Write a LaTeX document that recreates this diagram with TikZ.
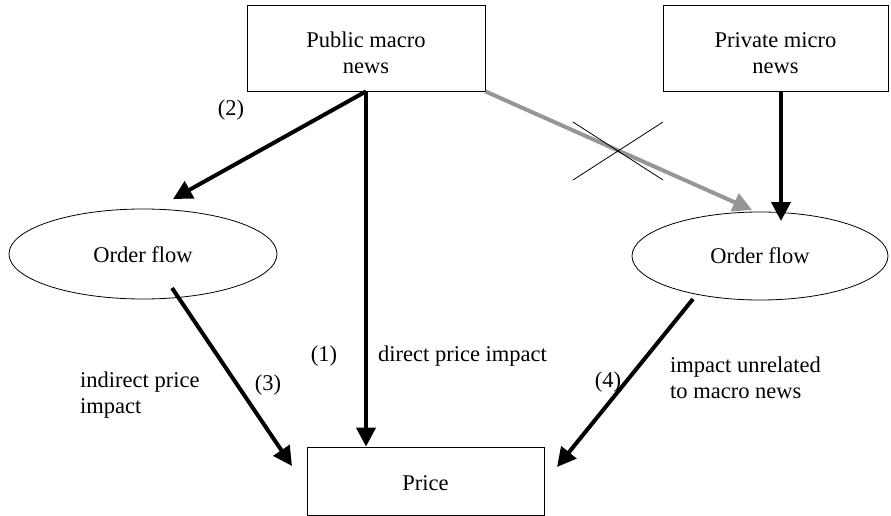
\documentclass[tikz,border=0pt]{standalone}
\usepackage{fontspec}
\setmainfont{Liberation Serif}
\usetikzlibrary{arrows.meta,shapes.geometric}
\definecolor{arrowgray}{RGB}{150,150,150}
\newcommand{\boxtext}[2]{\raisebox{#1}[\height][\depth]{\begin{tabular}{@{}c@{}}#2\end{tabular}}}
\tikzset{
  box/.style={draw, line width=0.8pt, rectangle, inner sep=0pt, align=center},
  oval/.style={draw, line width=0.8pt, ellipse, inner sep=0pt, minimum width=268pt, minimum height=90pt},
  flow/.style={line width=4pt, -{Triangle[length=19pt,width=19pt]}},
  grayflow/.style={flow, draw=arrowgray, -{Triangle[length=19pt,width=19pt,fill=arrowgray]}},
  lbl/.style={inner sep=0pt, align=left},
  every node/.style={font=\fontsize{22.5pt}{26pt}\selectfont}
}
\begin{document}
\begin{tikzpicture}[x=1pt,y=-1pt]
\useasboundingbox (0,0) rectangle (891,516);
\node[box, minimum width=238pt, minimum height=86pt] (pub) at (366,48) {\boxtext{-7pt}{Public macro\\news}};
\node[box, minimum width=225pt, minimum height=86pt] (priv) at (775.5,48) {\boxtext{-7pt}{Private micro\\news}};
\node[oval] (lof) at (143,254) {\boxtext{-3pt}{Order flow}};
\node[oval, minimum width=256pt, minimum height=88pt] (rof) at (760,256) {\boxtext{-2pt}{Order flow}};
\node[box, minimum width=237pt, minimum height=68pt] (price) at (425.5,481) {\boxtext{-4pt}{Price}};

\coordinate (t2) at (173,199);
\coordinate (tg) at (752,210);
\coordinate (sp) at (781,91);
\coordinate (tp) at (781,221);
\coordinate (s3) at (172,288);
\coordinate (t3) at (292,466);
\coordinate (s4) at (693,299);
\coordinate (t4) at (557,467);

\draw[flow] (pub.south) -- (t2);
\draw[flow] (pub.south) -- (pub.south |- price.north);
\draw[grayflow] (pub.south east) -- (tg);
\draw[flow] (sp) -- (tp);
\draw[flow] (s3) -- (t3);
\draw[flow] (s4) -- (t4);

\coordinate (c1) at (573,122);
\coordinate (c2) at (663,180);
\coordinate (c3) at (573,180);
\coordinate (c4) at (663,122);
\draw[line width=0.8pt] (c1) -- (c2);
\draw[line width=0.8pt] (c3) -- (c4);

\node[lbl] (l2) at (231,110) {(2)};
\node[lbl] (l1) at (324,356) {(1)};
\node[lbl, anchor=west] (d1) at (378,356) {direct price impact};
\node[lbl] (l3) at (268,385) {(3)};
\node[lbl, anchor=west] (d3) at (80,395) {indirect price\\impact};
\node[lbl] (l4) at (608,382) {(4)};
\node[lbl, anchor=west] (d4) at (670,378) {impact unrelated\\to macro news};
\end{tikzpicture}
\end{document}
